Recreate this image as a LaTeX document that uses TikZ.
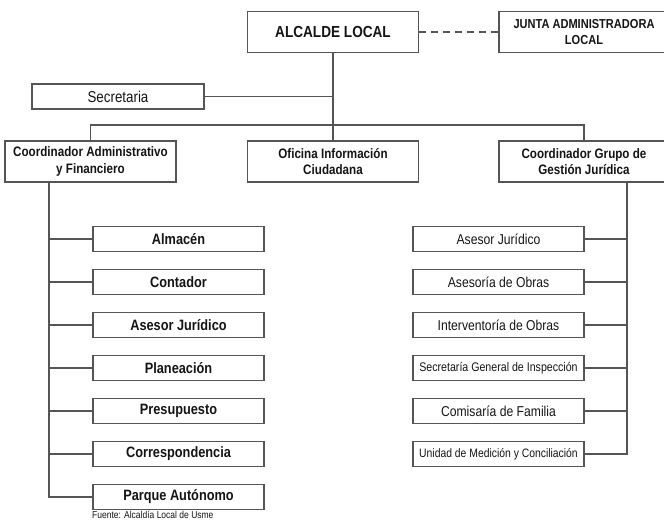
\documentclass[tikz,border=0pt]{standalone}
\usepackage{fontspec}
\setmainfont{Liberation Sans}[FakeStretch=0.85]
\definecolor{linegray}{HTML}{555555}
\definecolor{ink}{HTML}{141414}
\begin{document}
\begin{tikzpicture}[x=1pt,y=-1pt,
    box/.style={draw=linegray,line width=1.4pt,text=ink,inner sep=0pt,align=center,minimum width=171pt},
    topbox/.style={box,minimum height=41pt,font=\bfseries\fontsize{13.7}{16.5}\selectfont},
    leftbox/.style={box,minimum height=25pt,font=\bfseries\fontsize{15}{18}\selectfont},
    rightbox/.style={box,minimum height=25pt,font=\fontsize{14.3}{17}\selectfont},
    link/.style={draw=linegray,line width=1.4pt}]
  \useasboundingbox (0,0) rectangle (664,521);
  \draw
    (333,32) node[topbox,font=\bfseries\fontsize{16}{19}\selectfont] (alcalde) {ALCALDE LOCAL}
    (584,32) node[topbox,minimum width=170pt,font=\bfseries\fontsize{13}{15.7}\selectfont] (junta) {JUNTA ADMINISTRADORA\\LOCAL}
    (118,96.5) node[box,minimum width=172pt,minimum height=25pt,font=\fontsize{15.7}{18}\selectfont] (secretaria) {Secretaria}
    (90.5,161.5) node[topbox] (admin) {Coordinador Administrativo\\y Financiero}
    (333,161.5) node[topbox] (oficina) {Oficina Información\\Ciudadana}
    (584,161.5) node[topbox,minimum width=170pt] (gestion) {Coordinador Grupo de\\Gestión Jurídica}
    (178.5,239) node[leftbox] (almacen) {Almacén}
    (178.5,282) node[leftbox] (contador) {Contador}
    (178.5,325) node[leftbox] (asesorA) {Asesor Jurídico}
    (178.5,368) node[leftbox] (planeacion) {Planeación}
    (178.5,411) node[leftbox] (presupuesto) {Presupuesto}
    (178.5,454) node[leftbox] (correspondencia) {Correspondencia}
    (178.5,497) node[leftbox] (parque) {Parque Autónomo}
    (498.5,239) node[rightbox] (asesorB) {Asesor Jurídico}
    (498.5,282) node[rightbox] (obras) {Asesoría de Obras}
    (498.5,325) node[rightbox] (interventoria) {Interventoría de Obras}
    (498.5,368) node[rightbox,font=\fontsize{12.5}{15}\selectfont] (inspeccion) {Secretaría General de Inspección}
    (498.5,411) node[rightbox] (comisaria) {Comisaría de Familia}
    (498.5,454) node[rightbox,font=\fontsize{12.2}{15}\selectfont] (conciliacion) {Unidad de Medición y Conciliación}
    (92,518.5) node[anchor=base west,inner sep=0pt,text=ink,font=\fontsize{10}{12}\selectfont] (fuente) {Fuente: Alcaldía Local de Usme};
  \coordinate (bus) at (333,125);
  \coordinate (ltrunk) at (49,182);
  \coordinate (rtrunk) at (627,182);
  \begin{scope}[link]
    \draw (alcalde) to (oficina);
    \draw[dash pattern=on 7pt off 5pt] (alcalde) to (junta);
    \draw (secretaria.east) to (secretaria.east -| alcalde);
    \draw (admin.north) |- (bus) -| (gestion.north);
    \draw (ltrunk) |- (parque.west);
    \draw (almacen.west) to (almacen.west -| ltrunk);
    \draw (contador.west) to (contador.west -| ltrunk);
    \draw (asesorA.west) to (asesorA.west -| ltrunk);
    \draw (planeacion.west) to (planeacion.west -| ltrunk);
    \draw (presupuesto.west) to (presupuesto.west -| ltrunk);
    \draw (correspondencia.west) to (correspondencia.west -| ltrunk);
    \draw (rtrunk) |- (conciliacion.east);
    \draw (asesorB.east) to (asesorB.east -| rtrunk);
    \draw (obras.east) to (obras.east -| rtrunk);
    \draw (interventoria.east) to (interventoria.east -| rtrunk);
    \draw (inspeccion.east) to (inspeccion.east -| rtrunk);
    \draw (comisaria.east) to (comisaria.east -| rtrunk);
  \end{scope}
\end{tikzpicture}
\end{document}
